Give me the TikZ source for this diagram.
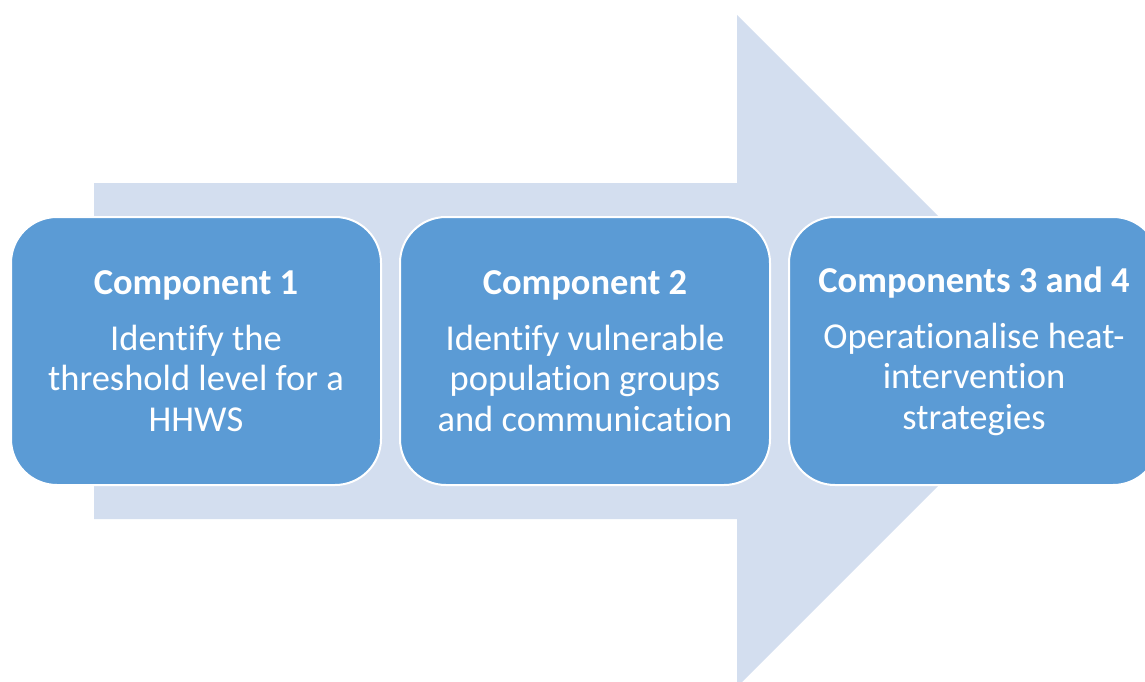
\documentclass[tikz,border=0pt]{standalone}
\usepackage{fontspec}
\setmainfont{Carlito}[Ligatures=NoCommon]
\definecolor{arrowfill}{HTML}{D3DEEF}
\definecolor{boxfill}{HTML}{5B9BD5}
\begin{document}
\begin{tikzpicture}[x=1pt,y=-1pt,
  compbox/.style={draw=white, line width=2pt, fill=boxfill, rounded corners=46pt,
    minimum width=370pt, minimum height=268pt, inner sep=0pt, anchor=north west,
    text=white, align=center, font=\fontsize{36.5}{40.5}\selectfont},
]
\newcommand{\ttlfont}{\bfseries}
\useasboundingbox (0,0) rectangle (1145,682);
\clip (0,0) rectangle (1145,682);
% big background arrow
\fill[arrowfill] (94,183) -- (737,183) -- (737,15) -- (1073,351) -- (737,687) -- (737,519) -- (94,519) -- cycle;
\node[compbox] (c1) at (10,216) {{\ttlfont Component 1}\\[15.5pt]
  Identify the\\threshold level for a\\HHWS};
\node[compbox] (c2) at (399,216) {{\ttlfont Component 2}\\[15.5pt]
  Identify vulnerable\\population groups\\and communication};
\node[compbox] (c3) at (788,216) {{\ttlfont Components 3 and 4}\\[15.5pt]
  Operationalise heat-\\intervention\\strategies};
\end{tikzpicture}
\end{document}
